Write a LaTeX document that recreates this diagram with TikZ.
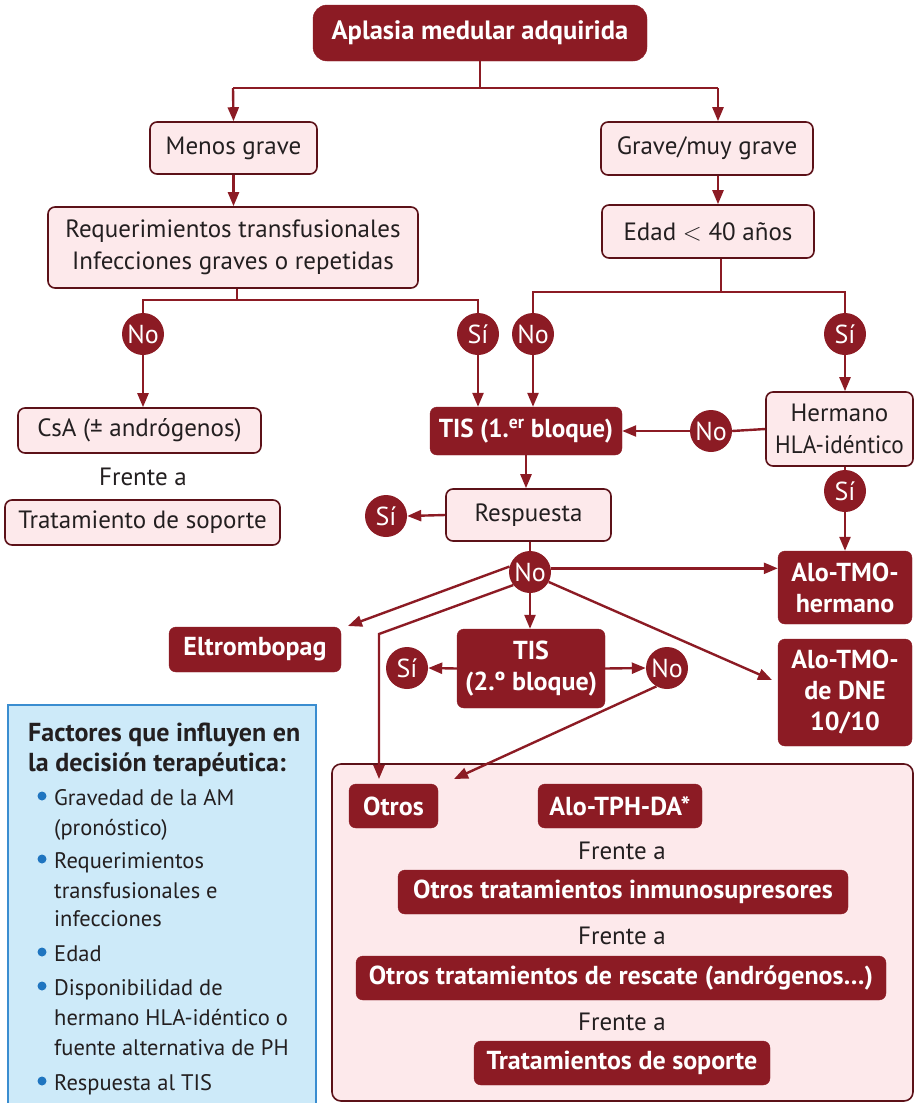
\documentclass[tikz,border=0pt]{standalone}
\usepackage{fontspec}
\setmainfont{PT Sans}
\usetikzlibrary{arrows.meta,calc}
\definecolor{dred}{HTML}{8C1B24}
\definecolor{lpink}{HTML}{FDE9EB}
\definecolor{bdr}{HTML}{5C1118}
\definecolor{txt}{HTML}{231F20}
\definecolor{bfill}{HTML}{CDEAF9}
\definecolor{bline}{HTML}{3A8DD0}
\definecolor{bdot}{HTML}{1F75C0}
\newcommand{\fsz}{\fontsize{25}{32}\selectfont}
\newcommand{\fsb}{\fontsize{26}{31}\selectfont\bfseries}
\newcommand{\sx}[2]{\scalebox{#1}[1]{#2}}
\tikzset{
 dk/.style={rounded corners=7pt, fill=dred, draw=dred, text=white, font=\fsb, align=center, inner sep=0pt},
 lt/.style={rounded corners=7pt, fill=lpink, draw=bdr, line width=1.6pt, text=txt, font=\fsz, align=center, inner sep=0pt},
 ci/.style={circle, fill=dred, text=white, minimum size=42pt, inner sep=0pt, font=\fontsize{26}{30}\selectfont},
 plain/.style={text=txt, font=\fsz, inner sep=0pt},
 ln/.style={draw=dred, line width=2.4pt},
 ar/.style={ln, -{Triangle[length=14pt,width=11pt]}},
 item/.style={text=txt, font=\fontsize{22.5}{29}\selectfont, anchor=base west, inner sep=0pt},
 ttl/.style={text=txt, font=\fontsize{26}{28}\selectfont\bfseries, anchor=base west, inner sep=0pt},
}
\begin{document}
\begin{tikzpicture}[x=1pt,y=-1pt]
\useasboundingbox (0,0) rectangle (914,1103);
% big pink box
\draw[fill=lpink, draw=bdr, line width=1.6pt, rounded corners=9pt] (332,764) rectangle (913,1101);
% blue box
\draw[fill=bfill, draw=bline, line width=1.6pt] (8,705) rectangle (316,1112);

% nodes
\node[dk, minimum width=334pt, minimum height=56pt, rounded corners=14pt, font=\fontsize{26.5}{31}\selectfont\bfseries] (top) at (480,33) {Aplasia medular adquirida};
\node[lt, minimum width=167pt, minimum height=52pt] (menos) at (233.5,148) {Menos grave};
\node[lt, minimum width=370pt, minimum height=81pt] (req) at (233,247.5) {Requerimientos transfusionales\\Infecciones graves o repetidas};
\node[lt, minimum width=212pt, minimum height=53pt] (grave) at (707,148.5) {Grave/muy grave};
\node[lt, minimum width=212pt, minimum height=53pt] (edad) at (708,231.5) {Edad $<$ 40 años};
\node[ci] (noA) at (143,334) {No};
\node[ci] (siA) at (478,334) {Sí};
\node[ci] (noB) at (533,334) {No};
\node[ci] (siB) at (845,334) {Sí};
\node[lt, minimum width=243pt, minimum height=45pt] (csa) at (139.5,430.5) {CsA (± andrógenos)};
\node[plain] (fr1) at (143,477) {Frente a};
\node[lt, minimum width=275pt, minimum height=45pt] (trat) at (142.5,522.5) {Tratamiento de soporte};
\node[dk, minimum width=192pt, minimum height=48pt] (tis1) at (526,431) {\sx{0.97}{TIS (1.\textsuperscript{er} bloque)}};
\node[lt, minimum width=147pt, minimum height=74pt] (herm) at (839.5,429) {Hermano\\\sx{0.93}{HLA-idéntico}};
\node[ci] (noC) at (711,431) {No};
\node[ci] (siC) at (845,491) {Sí};
\node[lt, minimum width=165pt, minimum height=52pt] (resp) at (528.5,515) {Respuesta};
\node[ci] (siD) at (386,516) {Sí};
\node[ci] (noD) at (530,572) {No};
\node[dk, minimum width=134pt, minimum height=73pt] (alo1) at (845,587.5) {Alo-TMO-\\hermano};
\node[dk, minimum width=134pt, minimum height=107pt] (alo2) at (845,692.5) {Alo-TMO-\\de DNE\\10/10};
\node[dk, minimum width=172pt, minimum height=45pt] (eltro) at (255,649.5) {Eltrombopag};
\node[dk, minimum width=148pt, minimum height=79pt] (tis2) at (531,668.5) {TIS\\(2.º bloque)};
\node[ci] (siE) at (407,668) {Sí};
\node[ci] (noE) at (667,668) {No};
\node[dk, minimum width=89pt, minimum height=44pt] (otros) at (393.5,806) {Otros};
\node[dk, minimum width=164pt, minimum height=44pt] (alotph) at (620,806) {Alo-TPH-DA*};
\node[plain] (fr2) at (622,851) {Frente a};
\node[dk, minimum width=450pt, minimum height=44pt] (oti) at (623,892) {Otros tratamientos inmunosupresores};
\node[plain] (fr3) at (622,936) {Frente a};
\node[dk, minimum width=530pt, minimum height=44pt] (otr) at (621,978) {Otros tratamientos de rescate (andrógenos…)};
\node[plain] (fr4) at (622,1022) {Frente a};
\node[dk, minimum width=296pt, minimum height=44pt] (ts) at (622,1063) {Tratamientos de soporte};

% legend
\node[ttl] (t1) at (28,741) {Factores que influyen en};
\node[ttl] (t2) at (28,771) {la decisión terapéutica:};
\node[item] (i1a) at (54,805) {Gravedad de la AM};
\node[item] (i1b) at (54,835) {(pronóstico)};
\node[item] (i2a) at (54,868) {Requerimientos};
\node[item] (i2b) at (54,898) {transfusionales e};
\node[item] (i2c) at (54,926) {infecciones};
\node[item] (i3) at (54,961) {Edad};
\node[item] (i4a) at (54,995) {Disponibilidad de};
\node[item] (i4b) at (54,1025) {hermano HLA-idéntico o};
\node[item] (i4c) at (54,1055) {fuente alternativa de PH};
\node[item] (i5) at (54,1090) {Respuesta al TIS};
\foreach \y in {796,859,952,986,1081} \fill[bdot] (42,\y) circle (4.5pt);

% coordinates
\coordinate (j0) at (480,88);
\coordinate (jL) at (233,88);
\coordinate (jR) at (718,88);
\coordinate (j1) at (237,300);
\coordinate (j2) at (721,292);
\coordinate (eltroIn) at (348,626);
\coordinate (bend) at (379,634);
\coordinate (otrosIn) at (379,779);
\coordinate (dneIn) at (772,680);
\coordinate (otrosIn2) at (454,779);

% connectors
\draw[ln] (top.south) -- (j0);
\draw[ln] (jL) -- (jR);
\draw[ar] (jL) -- (menos.north);
\draw[ar] (jR) -- (jR |- grave.north);
\draw[ar] (menos.south) -- (req.north -| menos.south);
\draw[ar] (grave.south -| jR) -- (edad.north -| jR);
\draw[ln] (req.south -| j1) -- (j1);
\draw[ln] (noA.north) |- (j1) -| (siA.north);
\draw[ln] (edad.south -| j2) -- (j2);
\draw[ln] (noB.north) |- (j2) -| (siB.north);
\draw[ar] (noA.south) -- (noA.south |- csa.north);
\draw[ar] (siA.south) -- (siA.south |- tis1.north);
\draw[ar] (noB.south) -- (noB.south |- tis1.north);
\draw[ar] (siB.south) -- (siB.south |- herm.north);
\draw[ln] (herm.west) -- (noC.east);
\draw[ar] (noC.west) -- (tis1.east);
\draw[ln] (siC.north |- herm.south) -- (siC.north);
\draw[ar] (siC.south) -- (siC.south |- alo1.north);
\draw[ar] (tis1.south) -- (tis1.south |- resp.north);
\draw[ar] (resp.west) -- (siD.east);
\draw[ln] (resp.south -| noD.north) -- (noD.north);
\draw[ar] (noD.10) -- (noD.10 -| alo1.west);
\draw[ar] (noD.south) -- (noD.south |- tis2.north);
\draw[ar] (noD.165) -- (eltroIn);
\draw[ar] (noD.218) -- (bend) -- (otrosIn);
\draw[ar] (noD.-28) -- (dneIn);
\draw[ar] (tis2.west) -- (siE.east);
\draw[ar] (tis2.east) -- (noE.west);
\draw[ar] (noE.240) -- (otrosIn2);
\end{tikzpicture}
\end{document}
